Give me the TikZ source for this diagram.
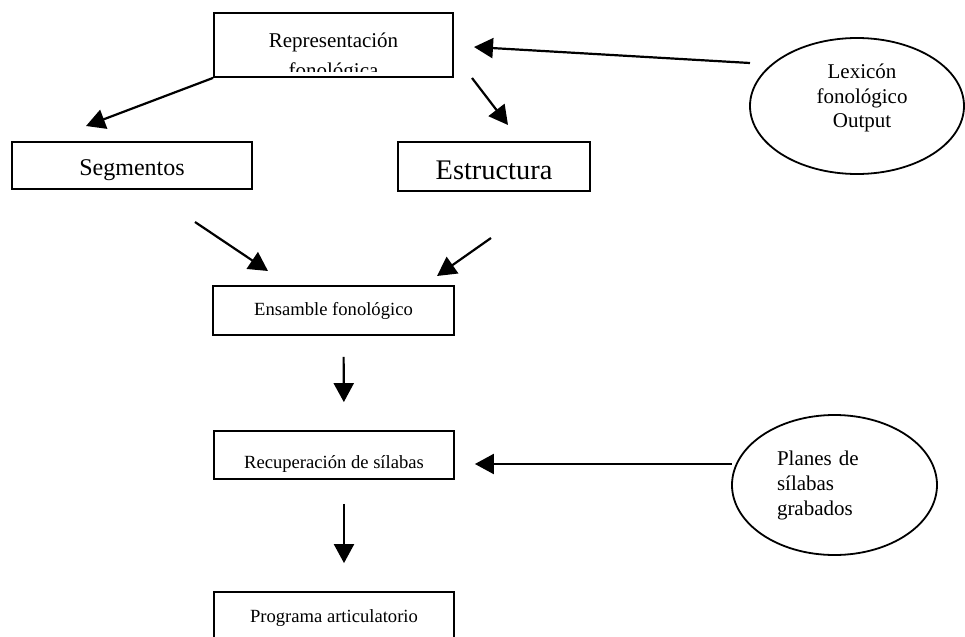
\documentclass[tikz,border=0pt]{standalone}
\usepackage{fontspec}
\setmainfont{Liberation Serif}
\usetikzlibrary{arrows.meta,shapes.geometric,positioning}

\begin{document}
\begin{tikzpicture}[
    x=0.5pt,y=-0.5pt,
    >={Triangle[length=9.5pt,width=10pt]},
    flow/.style={->,draw=black,line width=1.1pt},
    box/.style={draw=black,line width=0.9pt,inner sep=0pt,align=center},
    oval/.style={draw=black,ellipse,line width=0.9pt,inner sep=0pt,align=center},
    small/.style={font=\fontsize{9.3}{11}\selectfont}
  ]
    \clip (0,0) rectangle (965,637);

    % main column
    \node[box,minimum width=119.5pt,minimum height=32pt] (rep) at (333.5,45) {};
    \begin{scope}
      \clip ([yshift=3pt]rep.south west) rectangle (rep.north east);
      \node[align=center,inner sep=0pt,font=\fontsize{10.5}{15}\selectfont]
        (reptext) at (333.5,57) {Representación\\fonológica};
    \end{scope}
    \node[box,minimum width=120pt,minimum height=23.5pt,text height=9.5pt,
      text depth=0pt,font=\fontsize{12}{14}\selectfont] (seg) at (132,165.5)
      {Segmentos};
    \node[box,minimum width=96pt,minimum height=24.5pt,text height=13pt,
      text depth=0pt,font=\fontsize{14.2}{16}\selectfont] (est) at (494,166.5)
      {Estructura};
    \node[box,small,minimum width=120.5pt,minimum height=24.5pt] (ens)
      at (333.5,310.5) {Ensamble fonológico};
    \node[box,small,minimum width=120pt,minimum height=24pt,text height=13pt,
      text depth=0pt] (rec) at (334,455) {Recuperación de sílabas};
    \node[box,small,minimum width=120pt,minimum height=24pt,text height=6pt,
      text depth=0pt] (prog) at (334,616) {Programa articulatorio};

    % side stores
    \node[oval,minimum width=107pt,minimum height=68pt] (lex) at (857,106) {};
    \node[align=center,inner sep=0pt,font=\fontsize{10.5}{12.25}\selectfont]
      (lextext) at (862,98) {Lexicón\\fonológico\\Output};
    \node[oval,minimum width=102.5pt,minimum height=70pt,align=left,
      text width=57.5pt,font=\fontsize{10.5}{12.5}\selectfont] (planes)
      at (834.5,485) {Planes de\\sílabas\\grabados};

    % free ends of the connectors
    \coordinate (segin) at (86,126);
    \coordinate (estout) at (472,78);
    \coordinate (estin) at (508,125);
    \coordinate (segdown) at (195,222);
    \coordinate (ensinL) at (268,271);
    \coordinate (estdown) at (491,238);
    \coordinate (ensinR) at (437,276);
    \coordinate (lexout) at (750,63);
    \coordinate (repin) at (474,47);
    \coordinate (planesout) at (732,464);

    \draw[flow] (rep.south west) -- (segin);
    \draw[flow] (estout) -- (estin);
    \draw[flow] (lexout) -- (repin);
    \draw[flow] (segdown) -- (ensinL);
    \draw[flow] (estdown) -- (ensinR);
    \draw[flow,shorten <=10.5pt,shorten >=14pt]
      ([xshift=5pt]ens.south) -- ([xshift=5pt]rec.north);
    \draw[flow,shorten <=12pt,shorten >=14pt]
      ([xshift=5pt]rec.south) -- ([xshift=5pt]prog.north);
    \draw[flow,shorten >=10pt] (planesout) -- (planesout -| rec.east);
  \end{tikzpicture}
\end{document}
